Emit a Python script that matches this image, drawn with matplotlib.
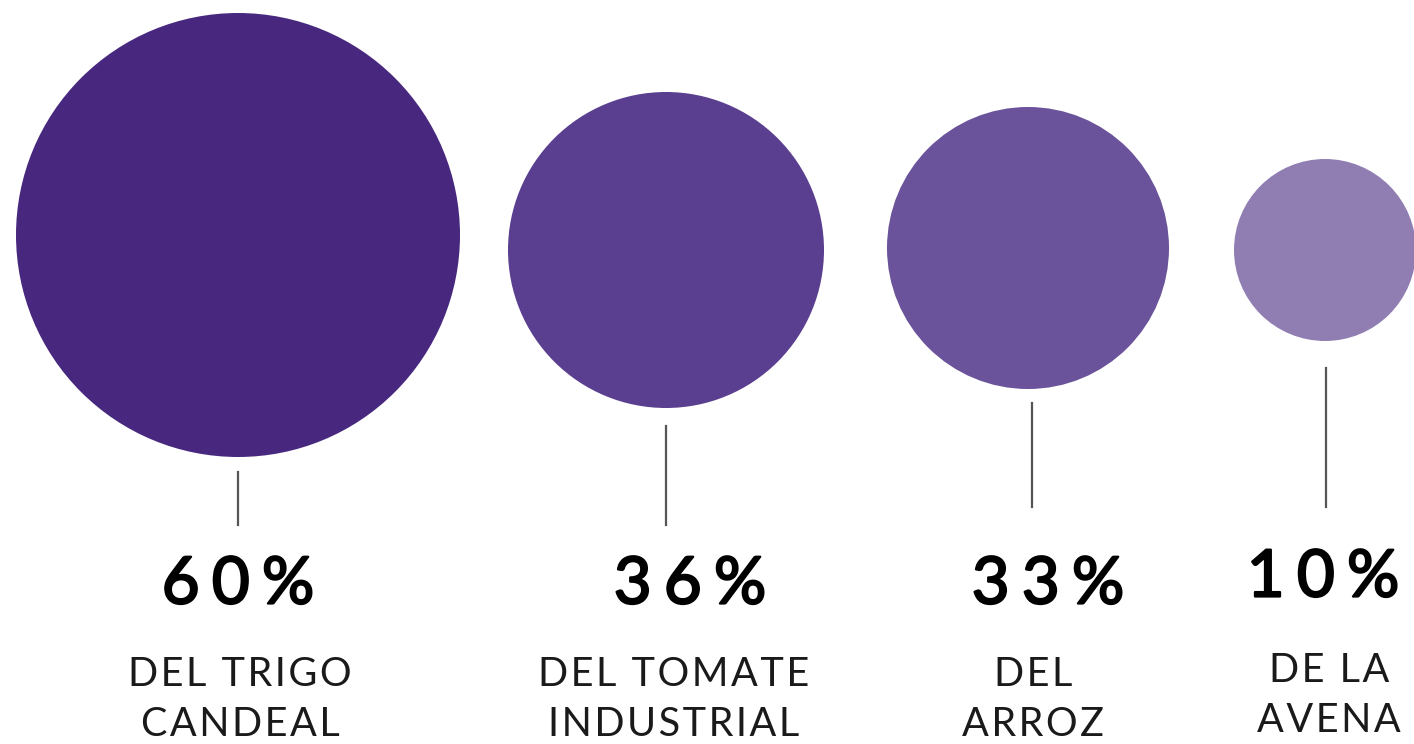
import matplotlib.pyplot as plt
import matplotlib.patheffects as pe
from matplotlib.patches import Circle

# Datos del gráfico
porcentajes = [60, 36, 33, 10]
etiquetas = [["DEL TRIGO", "CANDEAL"], ["DEL TOMATE", "INDUSTRIAL"],
             ["DEL", "ARROZ"], ["DE LA", "AVENA"]]
colores = ["#48287f", "#5a3e8f", "#6a539a", "#907eb3"]

# Disposición (en píxeles de la imagen)
centros = [(238, 235), (666, 250), (1028, 248), (1325, 250)]
radios = [222, 158, 141, 91]
lineas = [(238, 472, 525), (666, 426, 525), (1032, 403, 507), (1326, 368, 507)]
x_pct = [238, 690, 1048, 1323]
y_pct = [585, 585, 585, 578]
x_lab = [240, 674, 1033, 1329]
y_lab = [674, 674, 674, 670]

def espaciar(texto, sep="\u2009"):
    # separación entre letras
    return sep.join(texto)

fig = plt.figure(figsize=(14.14, 7.44), dpi=100)
ax = fig.add_axes([0, 0, 1, 1])
ax.set_xlim(0, 1414)
ax.set_ylim(744, 0)
ax.set_aspect('equal')
ax.axis('off')

for i, p in enumerate(porcentajes):
    ax.add_patch(Circle(centros[i], radios[i], color=colores[i], lw=0))
    x, y0, y1 = lineas[i]
    ax.plot([x, x], [y0, y1], color='#555555', lw=1.6)
    ax.text(x_pct[i], y_pct[i], espaciar(f"{p}%", "\u2009\u200a"), ha='center', va='center',
            fontsize=47, fontweight='normal', family=['Lato', 'DejaVu Sans'], color='black',
            path_effects=[pe.withStroke(linewidth=1.6, foreground='black')])
    for j, t in enumerate(etiquetas[i]):
        ax.text(x_lab[i], y_lab[i] + 50 * j, espaciar(t, "\u200a"), ha='center', va='center',
                fontsize=28.5, fontweight='normal', family=['Lato', 'DejaVu Sans'], color='#1a1a1a')

fig.savefig('out.png', dpi=100)
